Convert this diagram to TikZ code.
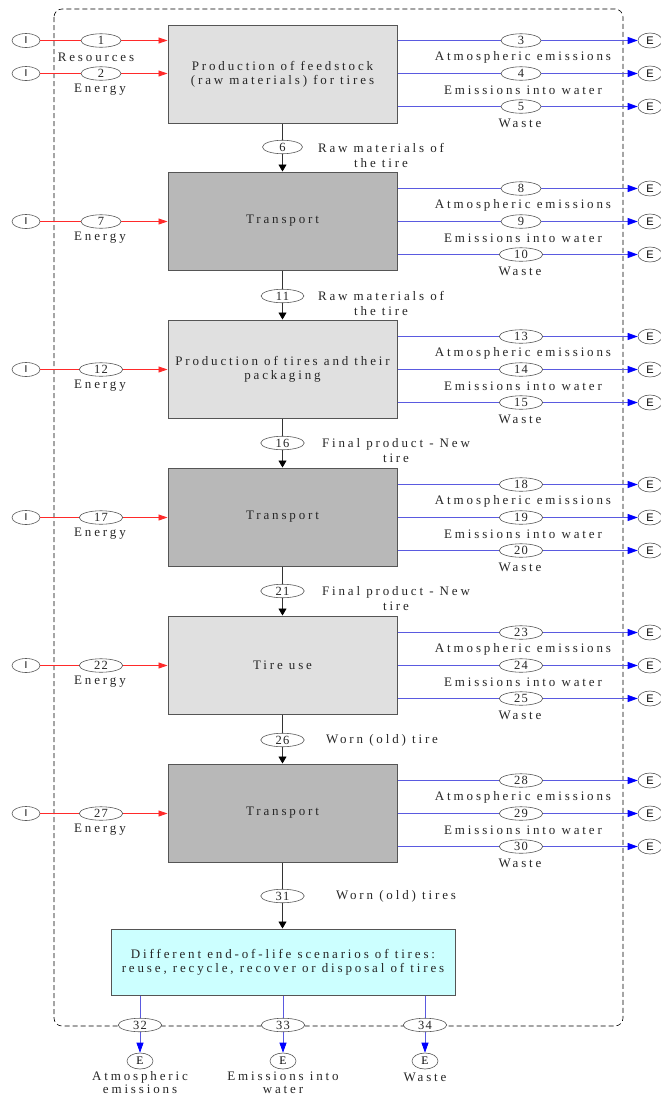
\documentclass[tikz,border=0pt]{standalone}
\usepackage{fontspec}
\setmainfont{Liberation Serif}[LetterSpace=22]
\newfontfamily\numfont{Liberation Serif}[LetterSpace=10]
\newfontfamily\sansfam{Liberation Sans}
\usetikzlibrary{shapes.geometric,arrows.meta}
\definecolor{boxlight}{HTML}{E0E0E0}
\definecolor{boxdark}{HTML}{B8B8B8}
\definecolor{boxcyan}{HTML}{CCFFFF}
\definecolor{flowred}{HTML}{FF2A2A}
\definecolor{flowblue}{HTML}{5A5AE0}
\definecolor{tipblue}{HTML}{0000FF}
\definecolor{edgegray}{HTML}{555555}
\begin{document}
\begin{tikzpicture}[x=1pt,y=-1pt,
  font=\fontsize{13}{14}\selectfont,
  proc/.style={draw=edgegray, line width=1pt, minimum width=229pt, minimum height=98pt,
    inner sep=0pt, align=center, text=black!85},
  lightbox/.style={proc, fill=boxlight},
  darkbox/.style={proc, fill=boxdark},
  num/.style={ellipse, draw=black!65, line width=0.6pt, fill=white, inner xsep=8.5pt,
    inner ysep=0pt, minimum width=40pt, minimum height=13.5pt, text=black!85,
    font=\numfont\fontsize{12.5}{14}\selectfont},
  ein/.style={ellipse, draw=black!65, line width=0.6pt, fill=white, minimum width=28pt,
    minimum height=14pt, inner sep=0pt, font=\sansfam\fontsize{10}{12}\selectfont},
  eout/.style={ein, minimum width=24pt, minimum height=15pt, font=\sansfam\fontsize{11}{12}\selectfont},
  ebot/.style={ellipse, draw=black!65, line width=0.6pt, fill=white, minimum width=26pt,
    minimum height=16pt, inner sep=0pt, font=\numfont\fontsize{11.5}{12}\selectfont},
  lab/.style={inner sep=0pt, align=center, text=black!85, font=\fontsize{13}{15}\selectfont},
  labb/.style={lab, font=\fontsize{13}{13}\selectfont},
  rline/.style={draw=flowred, line width=0.8pt},
  rarrow/.style={rline, -{Triangle[length=9pt,width=6pt,color=flowred]}},
  bline/.style={draw=flowblue, line width=0.8pt},
  barrow/.style={bline, -{Triangle[length=10pt,width=7pt,color=tipblue]}},
  kline/.style={draw=black!80, line width=0.8pt},
  karrow/.style={kline, -{Triangle[length=7pt,width=8pt,color=black]}}
]
\useasboundingbox (0,0) rectangle (661,1096);

% system boundary
\draw[black, line width=0.6pt, dash pattern=on 5pt off 3pt, rounded corners=8pt]
  (54,9) rectangle (623,1026);

% process boxes
\node[lightbox] (b1) at (282.5,74) {Production of feedstock\\(raw materials) for tires};
\node[darkbox]  (b2) at (282.5,221) {Transport};
\node[lightbox] (b3) at (282.5,369) {Production of tires and their\\packaging};
\node[darkbox]  (b4) at (282.5,517) {Transport};
\node[lightbox] (b5) at (282.5,665) {Tire use};
\node[darkbox]  (b6) at (282.5,813) {Transport};
\node[proc, fill=boxcyan, minimum width=344pt, minimum height=66pt] (b7) at (283,962)
  {Different end-of-life scenarios of tires:\\reuse, recycle, recover or disposal of tires};

% inputs: I nodes, flows, then flow-number ellipses on top
\node[ein] (in1) at (26,40.5) {I};
\node[ein] (in2) at (26,73.5) {I};
\draw[rarrow] (in1) -- (in1 -| b1.west);
\draw[rarrow] (in2) -- (in2 -| b1.west);
\node[num] (n1) at (101,40.5) {1};
\node[num] (n2) at (101,73.5) {2};
\node[lab] at (96,57) {Resources};
\node[lab] at (100,89.5) {Energy};

\foreach \b/\y/\k in {2/221.5/7, 3/369.5/12, 4/517.5/17, 5/665.5/22, 6/813.5/27} {
  \node[ein] (in\k) at (26,\y) {I};
  \draw[rarrow] (in\k) -- (in\k -| b\b.west);
  \node[num] (n\k) at (101,\y) {\k};
  \node[lab] at (100,\y+16) {Energy};
}

% emissions of stages 1-6
\foreach \b/\y/\p in {1/73.5/3, 2/221.5/8, 3/369.5/13, 4/517.5/18, 5/665.5/23, 6/813.5/28} {
  \pgfmathtruncatemacro\q{\p+1}
  \pgfmathtruncatemacro\r{\p+2}
  \node[eout] (e\p) at (650,\y-33) {E};
  \node[eout] (e\q) at (650,\y) {E};
  \node[eout] (e\r) at (650,\y+33) {E};
  \draw[barrow] (e\p -| b\b.east) -- (e\p);
  \draw[barrow] (e\q -| b\b.east) -- (e\q);
  \draw[barrow] (e\r -| b\b.east) -- (e\r);
  \node[num] (n\p) at (521,\y-33) {\p};
  \node[num] (n\q) at (521,\y) {\q};
  \node[num] (n\r) at (521,\y+33) {\r};
  \node[lab] at (523,\y-16) {Atmospheric emissions};
  \node[lab] at (523,\y+17) {Emissions into water};
  \node[lab] at (520,\y+50) {Waste};
}

% main flow
\draw[karrow] (b1) -- (b2);
\draw[karrow] (b2) -- (b3);
\draw[karrow] (b3) -- (b4);
\draw[karrow] (b4) -- (b5);
\draw[karrow] (b5) -- (b6);
\draw[karrow] (b6) -- (b6 |- b7.north);
\node[num] (n6)  at (282.5,147) {6};
\node[num] (n11) at (282.5,296) {11};
\node[num] (n16) at (282.5,443) {16};
\node[num] (n21) at (282.5,591) {21};
\node[num] (n26) at (282.5,740) {26};
\node[num] (n31) at (282.5,896) {31};
\node[lab] at (381,155) {Raw materials of\\the tire};
\node[lab] at (381,303.5) {Raw materials of\\the tire};
\node[lab] at (396,450.5) {Final product - New\\tire};
\node[lab] at (396,598.5) {Final product - New\\tire};
\node[lab] at (382,740) {Worn (old) tire};
\node[lab] at (396,896) {Worn (old) tires};

% end-of-life outputs
\node[ebot] (e32) at (140,1061) {E};
\node[ebot] (e33) at (283,1061) {E};
\node[ebot] (e34) at (425,1061) {E};
\draw[barrow] (e32 |- b7.south) -- (e32);
\draw[barrow] (e33 |- b7.south) -- (e33);
\draw[barrow] (e34 |- b7.south) -- (e34);
\node[num] (n32) at (140,1025) {32};
\node[num] (n33) at (283,1025) {33};
\node[num] (n34) at (425,1025) {34};
\node[labb] at (140,1083) {Atmospheric\\emissions};
\node[labb] at (283,1083) {Emissions into\\water};
\node[labb] at (425,1077) {Waste};
\end{tikzpicture}
\end{document}
